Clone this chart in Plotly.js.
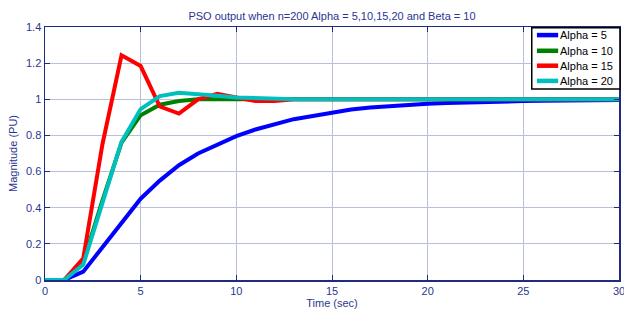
<!DOCTYPE html>
<html>
<head>
<meta charset="utf-8">
<script src="https://cdn.plot.ly/plotly-3.0.1.min.js"></script>
<style>html,body{margin:0;padding:0;background:#fff;}#chart{width:624px;height:311px;}</style>
</head>
<body>
<div id="chart"></div>
<script>
const time = [0,1,2,3,4,5,6,7,8,9,10,11,12,13,14,15,16,17,18,19,20,21,22,23,24,25,26,27,28,29,30];
const alpha5  = [0,0,0.046,0.18,0.32,0.45,0.55,0.635,0.70,0.75,0.796,0.833,0.862,0.89,0.908,0.928,0.943,0.954,0.962,0.969,0.975,0.979,0.983,0.986,0.988,0.99,0.992,0.993,0.994,0.995,0.996];
const alpha10 = [0,0,0.10,0.44,0.76,0.912,0.97,0.99,1.0,1.0,1.0,1.0,1.0,1.0,1.0,1.0,1.0,1.0,1.0,1.0,1.0,1.0,1.0,1.0,1.0,1.0,1.0,1.0,1.0,1.0,1.0];
const alpha15 = [0,0,0.12,0.75,1.243,1.184,0.96,0.921,1.0,1.03,1.01,0.99,0.99,1.0,1.0,1.0,1.0,1.0,1.0,1.0,1.0,1.0,1.0,1.0,1.0,1.0,1.0,1.0,1.0,1.0,1.0];
const alpha20 = [0,0,0.085,0.42,0.765,0.946,1.018,1.036,1.03,1.02,1.01,1.005,1.0,1.0,1.0,1.0,1.0,1.0,1.0,1.0,1.0,1.0,1.0,1.0,1.0,1.0,1.0,1.0,1.0,1.0,1.0];
const seriesNames = ['Alpha = 5','Alpha = 10','Alpha = 15','Alpha = 20'];
const seriesColors = ['#0000ff','#008000','#ff0000','#00bfbf'];
const seriesValues = [alpha5, alpha10, alpha15, alpha20];

const axisCol = '#1f2a80';
const textCol = '#2a3592';
const gridCol = '#b9c0dc';
const fontFam = 'Liberation Sans, Arial, sans-serif';

const traces = seriesValues.map((v,i)=>({
  x: time, y: v, type:'scatter', mode:'lines', name: seriesNames[i],
  line:{color: seriesColors[i], width: 4}
}));

const axBase = {
  showline:true, linecolor:axisCol, linewidth:1.5, mirror:'ticks',
  ticks:'inside', ticklen:5, tickcolor:axisCol, tickwidth:1,
  showgrid:true, gridcolor:gridCol, gridwidth:1, zeroline:false,
  ticklabeloverflow:'allow',
  tickfont:{family:fontFam, size:11, color:textCol}
};

// custom legend (box, line samples, labels) in paper coordinates
const legBox = {x0:0.848, x1:1.0017, y0:0.755, y1:0.997};
const legRowsY = [0.968, 0.906, 0.847, 0.787];
const shapes = [{type:'rect', xref:'paper', yref:'paper', x0:legBox.x0, x1:legBox.x1, y0:legBox.y0, y1:legBox.y1,
  fillcolor:'#fff', line:{color:'#000', width:1.5}, layer:'above'}];
const annotations = [];
seriesNames.forEach((n,i)=>{
  shapes.push({type:'line', xref:'paper', yref:'paper', x0:0.857, x1:0.894, y0:legRowsY[i], y1:legRowsY[i],
    line:{color:seriesColors[i], width:4.5}, layer:'above'});
  annotations.push({xref:'paper', yref:'paper', x:0.895, y:legRowsY[i], xanchor:'left', yanchor:'middle',
    text:n, showarrow:false, borderpad:0, font:{family:fontFam, size:11, color:'#000'}});
});

const layout = {
  width:624, height:311,
  margin:{l:45, r:5, t:27, b:31},
  paper_bgcolor:'#fff', plot_bgcolor:'#fff',
  title:{text:'PSO output when n=200 Alpha = 5,10,15,20 and Beta = 10', x:0.532, xanchor:'center', y:0.948, yanchor:'middle',
    font:{family:fontFam, size:11, color:textCol}},
  xaxis: Object.assign({}, axBase, {range:[0,30], dtick:5, tick0:0,
    title:{text:'Time (sec)', standoff:2, font:{family:fontFam, size:11, color:textCol}}}),
  yaxis: Object.assign({}, axBase, {range:[0,1.4], dtick:0.2, tick0:0,
    title:{text:'Magnitude (PU)', standoff:6, font:{family:fontFam, size:11, color:textCol}}}),
  showlegend:false,
  shapes: shapes,
  annotations: annotations
};

Plotly.newPlot('chart', traces, layout, {displayModeBar:false, staticPlot:true});
</script>
</body>
</html>
